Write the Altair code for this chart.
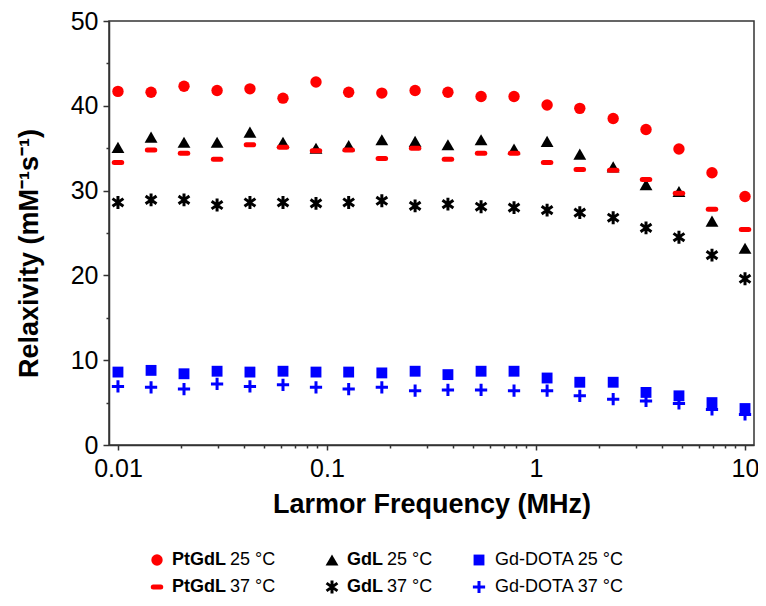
import altair as alt
import pandas as pd

# Larmor frequency (MHz)
freq = [0.01, 0.0144, 0.0207, 0.0298, 0.0428, 0.0616, 0.0886, 0.127, 0.183, 0.264,
        0.379, 0.546, 0.785, 1.13, 1.62, 2.34, 3.36, 4.83, 6.95, 10.0]

ptgdl_25 = [41.7, 41.6, 42.3, 41.8, 42.0, 40.9, 42.8, 41.6, 41.5, 41.8,
            41.6, 41.1, 41.1, 40.1, 39.7, 38.5, 37.2, 34.9, 32.1, 29.3]
ptgdl_37 = [33.3, 34.8, 34.4, 33.7, 35.4, 35.1, 34.7, 34.8, 33.8, 35.0,
            33.7, 34.4, 34.4, 33.3, 32.5, 32.4, 31.3, 29.7, 27.8, 25.4]
gdl_25 = [35.1, 36.3, 35.7, 35.7, 36.9, 35.7, 35.0, 35.3, 36.0, 35.8,
          35.4, 36.0, 34.9, 35.8, 34.3, 32.8, 30.7, 29.9, 26.4, 23.2]
gdl_37 = [28.6, 28.9, 28.9, 28.3, 28.6, 28.6, 28.5, 28.6, 28.8, 28.2,
          28.4, 28.1, 28.0, 27.7, 27.4, 26.8, 25.6, 24.5, 22.4, 19.6]
dota_25 = [8.6, 8.8, 8.4, 8.7, 8.6, 8.7, 8.6, 8.6, 8.5, 8.7,
           8.3, 8.7, 8.7, 7.9, 7.4, 7.4, 6.2, 5.8, 5.0, 4.3]
dota_37 = [6.9, 6.8, 6.6, 7.2, 6.9, 7.1, 6.8, 6.6, 6.8, 6.4,
           6.5, 6.5, 6.4, 6.4, 5.8, 5.4, 5.2, 4.9, 4.2, 3.6]

x_ticks = [0.01, 0.02, 0.03, 0.04, 0.05, 0.06, 0.07, 0.08, 0.09,
           0.1, 0.2, 0.3, 0.4, 0.5, 0.6, 0.7, 0.8, 0.9,
           1, 2, 3, 4, 5, 6, 7, 8, 9, 10]
y_ticks = [0, 5, 10, 15, 20, 25, 30, 35, 40, 45, 50]

RED = "#ff0000"
BLACK = "#000000"
BLUE = "#0000ff"

ASTERISK = "M0,-1V1M-0.85,-0.6L0.85,0.6M-0.85,0.6L0.85,-0.6"
PLUS = "M-1,0H1M0,-1V1"

# (values, bold label, rest label, mark style)
series = [
    (ptgdl_25, "PtGdL", "25 °C", dict(shape="circle", color=RED, filled=True, size=130, opacity=1)),
    (gdl_25, "GdL", "25 °C", dict(shape="triangle-up", color=BLACK, filled=True, size=165, opacity=1)),
    (gdl_37, "GdL", "37 °C", dict(shape=ASTERISK, color=BLACK, filled=False, size=165, strokeWidth=3, opacity=1)),
    (ptgdl_37, "PtGdL", "37 °C", dict(shape="stroke", color=RED, filled=False, size=56, strokeWidth=5, strokeCap="round", opacity=1)),
    (dota_25, "", "Gd-DOTA 25 °C", dict(shape="square", color=BLUE, filled=True, size=118, opacity=1)),
    (dota_37, "", "Gd-DOTA 37 °C", dict(shape=PLUS, color=BLUE, filled=False, size=150, strokeWidth=3, opacity=1)),
]

W, H = 645, 424

x_enc = alt.X(
    "freq:Q",
    scale=alt.Scale(type="log", domain=[0.00906, 11.04], nice=False),
    axis=alt.Axis(
        values=x_ticks,
        labelExpr="indexof([0.01, 0.1, 1, 10], datum.value) >= 0 ? format(datum.value, '~g') : ''",
        tickSize={"condition": {"test": "indexof([0.01, 0.1, 1, 10], datum.value) >= 0", "value": 5}, "value": 3},
        labelPadding=6,
        labelFlush=False,
        labelOverlap=False,
        title="Larmor Frequency (MHz)",
        titleX=W / 2,
        titleY=59,
        titleBaseline="middle",
        titleAlign="center",
    ),
)
y_enc = alt.Y(
    "r:Q",
    scale=alt.Scale(domain=[0, 50], nice=False, zero=False),
    axis=alt.Axis(
        values=y_ticks,
        labelExpr="datum.value % 10 === 0 ? datum.label : ''",
        tickSize={"condition": {"test": "datum.value % 10 === 0", "value": 6}, "value": 3},
        labelPadding=5,
        labelOverlap=False,
        title="Relaxivity (mM⁻¹s⁻¹)",
        titleX=-80,
        titleY=H / 2 + 20,
        titleAngle=-90,
        titleBaseline="middle",
        titleAlign="center",
    ),
)

layers = []
for vals, bold, rest, style in series:
    df = pd.DataFrame({"freq": freq, "r": vals})
    layers.append(alt.Chart(df).mark_point(**style).encode(x=x_enc, y=y_enc))

# legend (drawn below the plot)
one = alt.Data(values=[{"k": 1}])
leg_rows = [539, 566]
leg_cols = [
    # symbol x, bold text x, rest text x
    (48, 63, 121),
    (223, 238, 278),
    (370, 386, 386),
]
legend_order = [[0, 3], [1, 2], [4, 5]]  # indices into series, per column
for ci, col in enumerate(legend_order):
    sx, bx, rx = leg_cols[ci]
    for ri, si in enumerate(col):
        vals, bold, rest, style = series[si]
        yy = leg_rows[ri]
        layers.append(
            alt.Chart(one).mark_point(**style).encode(x=alt.value(sx), y=alt.value(yy))
        )
        if bold:
            layers.append(
                alt.Chart(one).mark_text(
                    text=bold, font="Liberation Sans", fontSize=18, fontWeight="bold",
                    align="left", baseline="middle", color="black"
                ).encode(x=alt.value(bx), y=alt.value(yy))
            )
        layers.append(
            alt.Chart(one).mark_text(
                text=rest, font="Liberation Sans", fontSize=18, fontWeight="normal",
                align="left", baseline="middle", color="black"
            ).encode(x=alt.value(rx), y=alt.value(yy))
        )

chart = (
    alt.layer(*layers)
    .properties(
        width=W,
        height=H,
        autosize=alt.AutoSizeParams(type="none"),
        padding={"left": 101, "top": 13, "right": 4, "bottom": 150},
    )
    .configure_view(stroke="#333333", strokeWidth=1.5)
    .configure_axis(
        grid=False,
        domainColor="#333333",
        domainWidth=1.5,
        tickColor="#333333",
        tickWidth=1.5,
        labelFont="Liberation Sans",
        labelFontSize=25,
        labelColor="black",
        titleFont="Liberation Sans",
        titleFontSize=27,
        titleFontWeight="bold",
        titleColor="black",
    )
)

chart.save("out.html", embed_options={"renderer": "svg", "actions": False})
